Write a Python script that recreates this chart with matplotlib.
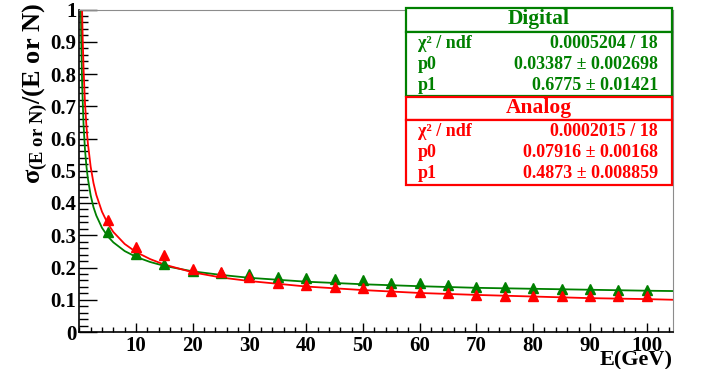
import matplotlib
matplotlib.use("Agg")
import matplotlib.pyplot as plt
from matplotlib.patches import Rectangle
from matplotlib.ticker import MultipleLocator

# measured points (triangles)
energy = [5, 10, 15, 20, 25, 30, 35, 40, 45, 50, 55, 60, 65, 70, 75, 80, 85, 90, 95, 100]
digital_pts = [0.311, 0.242, 0.211, 0.190, 0.183, 0.179, 0.172, 0.166, 0.163, 0.160,
               0.153, 0.151, 0.145, 0.140, 0.139, 0.135, 0.134, 0.132, 0.130, 0.130]
analog_pts = [0.347, 0.264, 0.239, 0.195, 0.186, 0.172, 0.151, 0.145, 0.141, 0.136,
              0.127, 0.123, 0.120, 0.116, 0.113, 0.113, 0.112, 0.111, 0.111, 0.111]

# fit curves
green_fit_e = [0.28, 0.35, 0.5, 0.75, 1, 1.25, 1.5, 2, 2.5, 3, 4, 5, 6, 8, 10, 12.5, 15,
               20, 25, 30, 40, 50, 60, 70, 80, 90, 100, 104.6]
green_fit_y = [1.000, 0.903, 0.768, 0.642, 0.566, 0.515, 0.477, 0.424, 0.387, 0.361,
               0.323, 0.297, 0.278, 0.251, 0.233, 0.217, 0.205, 0.188, 0.177, 0.168,
               0.156, 0.148, 0.142, 0.137, 0.134, 0.131, 0.128, 0.127]
red_fit_e = [0.49, 0.6, 0.75, 1, 1.25, 1.5, 2, 2.5, 3, 4, 5, 6, 8, 10, 12.5, 15,
             20, 25, 30, 40, 50, 60, 70, 80, 90, 100, 104.6]
red_fit_y = [1.000, 0.909, 0.816, 0.711, 0.640, 0.587, 0.513, 0.462, 0.425, 0.373,
             0.337, 0.310, 0.273, 0.248, 0.226, 0.209, 0.185, 0.169, 0.158, 0.141,
             0.130, 0.121, 0.115, 0.110, 0.105, 0.102, 0.100]

x_ticks = [10, 20, 30, 40, 50, 60, 70, 80, 90, 100]
y_ticks = [0, 0.1, 0.2, 0.3, 0.4, 0.5, 0.6, 0.7, 0.8, 0.9, 1]
y_tick_labels = ["0", "0.1", "0.2", "0.3", "0.4", "0.5", "0.6", "0.7", "0.8", "0.9", "1"]

digital_stats = [("χ² / ndf", "0.0005204 / 18"), ("p0", "0.03387 ± 0.002698"), ("p1", "0.6775 ± 0.01421")]
analog_stats = [("χ² / ndf", "0.0002015 / 18"), ("p0", "0.07916 ± 0.00168"), ("p1", "0.4873 ± 0.008859")]

GREEN = "#008000"
RED = "#ff0000"

plt.rcParams["font.family"] = ["Liberation Serif", "DejaVu Serif"]
plt.rcParams["font.weight"] = "bold"
plt.rcParams["mathtext.fontset"] = "custom"
plt.rcParams["mathtext.rm"] = "Liberation Serif:bold"
plt.rcParams["mathtext.it"] = "Liberation Serif:bold"
plt.rcParams["mathtext.bf"] = "Liberation Serif:bold"

W, H = 703, 369
fig = plt.figure(figsize=(W / 100, H / 100), dpi=100)
ax = fig.add_axes([79.3 / W, 1 - 332 / H, (672.7 - 79.3) / W, (332 - 9.5) / H])

ax.plot(green_fit_e, green_fit_y, color=GREEN, lw=1.3, zorder=2)
ax.plot(red_fit_e, red_fit_y, color=RED, lw=1.3, zorder=2)
ax.plot(energy, digital_pts, ls="none", marker="^", ms=7.5, color=GREEN, zorder=3)
ax.plot(energy, analog_pts, ls="none", marker="^", ms=7.5, color=RED, zorder=3)

ax.set_xlim(0, 104.6)
ax.set_ylim(0, 1)
ax.xaxis.set_minor_locator(MultipleLocator(2))
ax.yaxis.set_minor_locator(MultipleLocator(0.02))
ax.tick_params(axis="x", which="major", direction="in", length=6.5, width=1, labelsize=15, pad=3)
ax.tick_params(axis="x", which="minor", direction="in", length=3.6, width=1)
ax.tick_params(axis="y", which="major", direction="in", length=13, width=1, labelsize=15, pad=2)
ax.tick_params(axis="y", which="minor", direction="in", length=6.5, width=1)
ax.set_xticks(x_ticks)
ax.set_xticklabels([str(v) for v in x_ticks])
ax.set_yticks(y_ticks)
ax.set_yticklabels(y_tick_labels)
for lab in ax.get_xticklabels() + ax.get_yticklabels():
    lab.set_fontweight("bold")

for side in ["top", "right"]:
    ax.spines[side].set_color("0.55")
for side in ["left", "bottom"]:
    ax.spines[side].set_color("black")
    ax.spines[side].set_linewidth(1.2)

fig.text(673 / W, 1 - 360 / H, "E(GeV)", ha="right", va="center", fontsize=16, fontweight="bold")
fig.text(35 / W, 1 - 3 / H, r"$\sigma_{(E\ or\ N)}$/(E or N)", rotation=90,
         ha="center", va="top", fontsize=19, fontweight="bold")


def stat_box(top, color, title, rows):
    x0, x1 = 406 / W, 672 / W
    title_h, body_h = 23.5, 64.5
    y_t = 1 - top / H
    y_m = 1 - (top + title_h) / H
    y_b = 1 - (top + title_h + body_h) / H
    for ylo, yhi in [(y_m, y_t), (y_b, y_m)]:
        fig.patches.append(Rectangle((x0, ylo), x1 - x0, yhi - ylo, transform=fig.transFigure,
                                     facecolor="white", edgecolor=color, lw=1.6, zorder=5))
    fig.text((x0 + x1) / 2, 1 - (top + 11) / H, title, ha="center", va="center",
             color=color, fontsize=15.5, fontweight="bold", zorder=6)
    for i, (name, val) in enumerate(rows):
        yy = 1 - (top + title_h + 11.5 + i * 21.2) / H
        fig.text(418 / W, yy, name, ha="left", va="center", color=color,
                 fontsize=13, fontweight="bold", zorder=6)
        fig.text(658 / W, yy, val, ha="right", va="center", color=color,
                 fontsize=13, fontweight="bold", zorder=6)


stat_box(8.3, GREEN, "Digital", digital_stats)
stat_box(96.5, RED, "Analog", analog_stats)

fig.savefig("out.png", dpi=100)
